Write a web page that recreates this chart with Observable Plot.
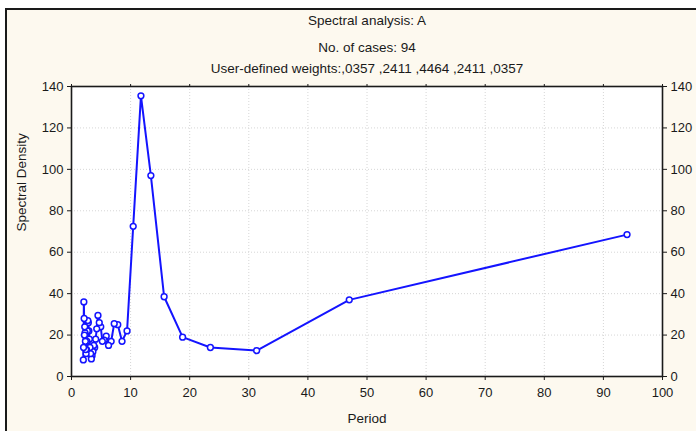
<!DOCTYPE html>
<html>
<head>
<meta charset="utf-8">
<script src="https://cdn.jsdelivr.net/npm/d3@7"></script>
<script src="https://cdn.jsdelivr.net/npm/@observablehq/plot@0.6"></script>
<style>
  body { margin: 0; background: #ffffff; }
  #wrap { position: relative; width: 696px; height: 431px; overflow: hidden; background: #ffffff; }
  #bg { position: absolute; left: 5px; top: 8px; right: 0; bottom: 0; background: #fdf9ef;
        border-top: 2px solid #1a1a1a; border-left: 2px solid #1a1a1a; }
  #chart { position: absolute; left: 0; top: 0; }
</style>
</head>
<body>
<div id="wrap"><div id="bg"></div><div id="chart"></div></div>
<script>
// Titles
const titleLines = ["Spectral analysis: A", "No. of cases: 94", "User-defined weights:,0357 ,2411 ,4464 ,2411 ,0357"];
const xLabel = "Period";
const yLabel = "Spectral Density";

// Tick values
const xTicks = [0, 10, 20, 30, 40, 50, 60, 70, 80, 90, 100];
const yTicks = [0, 20, 40, 60, 80, 100, 120, 140];

// Periods (94 / k, k = 1..47)
const periods = [94, 47, 31.33, 23.5, 18.8, 15.67, 13.43, 11.75, 10.44, 9.4,
  8.55, 7.83, 7.23, 6.71, 6.27, 5.875, 5.53, 5.22, 4.95, 4.7,
  4.48, 4.27, 4.09, 3.92, 3.76, 3.62, 3.48, 3.36, 3.24, 3.13,
  3.03, 2.94, 2.85, 2.76, 2.69, 2.61, 2.54, 2.47, 2.41, 2.35,
  2.29, 2.24, 2.19, 2.14, 2.09, 2.04, 2.0];

// Spectral density estimates
const density = [68.5, 37, 12.5, 14, 19, 38.5, 97, 135.5, 72.5, 22,
  17, 25, 25.5, 17, 15, 19.5, 17.5, 17, 24, 26,
  29.5, 23, 18, 14, 15, 12, 10, 8.5, 11, 14,
  18, 22, 26, 27, 22, 17, 13, 11, 13, 17,
  21, 24, 20, 28, 36, 14, 8];

const data = periods.map((p, i) => ({period: p, density: density[i]}));

const blue = "#1414ff";
const ink = "#1a1a1a";

const chart = Plot.plot({
  width: 696,
  height: 431,
  marginLeft: 71,
  marginRight: 34,
  marginTop: 86,
  marginBottom: 55,
  style: "background: transparent; font-family: 'Liberation Sans', Arial, sans-serif; font-size: 13px; color: #1a1a1a;",
  x: {domain: [0, 100]},
  y: {domain: [0, 140]},
  marks: [
    Plot.frame({fill: "white", stroke: null}),
    Plot.gridX(xTicks, {stroke: "#d6d6d6", strokeOpacity: 1, strokeDasharray: "1,2"}),
    Plot.gridY(yTicks, {stroke: "#d6d6d6", strokeOpacity: 1, strokeDasharray: "1,2"}),
    Plot.axisX({ticks: xTicks, tickSize: 4, tickPadding: 7, label: null, fill: ink, stroke: ink, fontSize: 13}),
    Plot.axisX({anchor: "top", ticks: xTicks, tickSize: 3, tickFormat: () => "", label: null, stroke: ink}),
    Plot.axisY({ticks: yTicks, tickSize: 4, tickPadding: 4, label: null, fill: ink, stroke: ink, fontSize: 13}),
    Plot.axisY({anchor: "right", ticks: yTicks, tickSize: 4, tickPadding: 4, label: null, fill: ink, stroke: ink, fontSize: 13}),
    Plot.line(data, {x: "period", y: "density", stroke: blue, strokeWidth: 2}),
    Plot.dot(data, {x: "period", y: "density", r: 2.9, stroke: blue, fill: "white", strokeWidth: 1.5}),
    Plot.frame({stroke: ink, strokeWidth: 1.6}),
    Plot.text([titleLines[0]], {frameAnchor: "top", dy: -71, fontSize: 13.5, fill: ink}),
    Plot.text([titleLines[1]], {frameAnchor: "top", dy: -44, fontSize: 13.5, fill: ink}),
    Plot.text([titleLines[2]], {frameAnchor: "top", dy: -23, fontSize: 13.5, fill: ink}),
    Plot.text([xLabel], {frameAnchor: "bottom", dy: 46, fontSize: 13.5, fill: ink}),
    Plot.text([yLabel], {frameAnchor: "left", dx: -50, rotate: -90, fontSize: 13.5, fill: ink})
  ]
});
document.getElementById("chart").appendChild(chart);
</script>
</body>
</html>
